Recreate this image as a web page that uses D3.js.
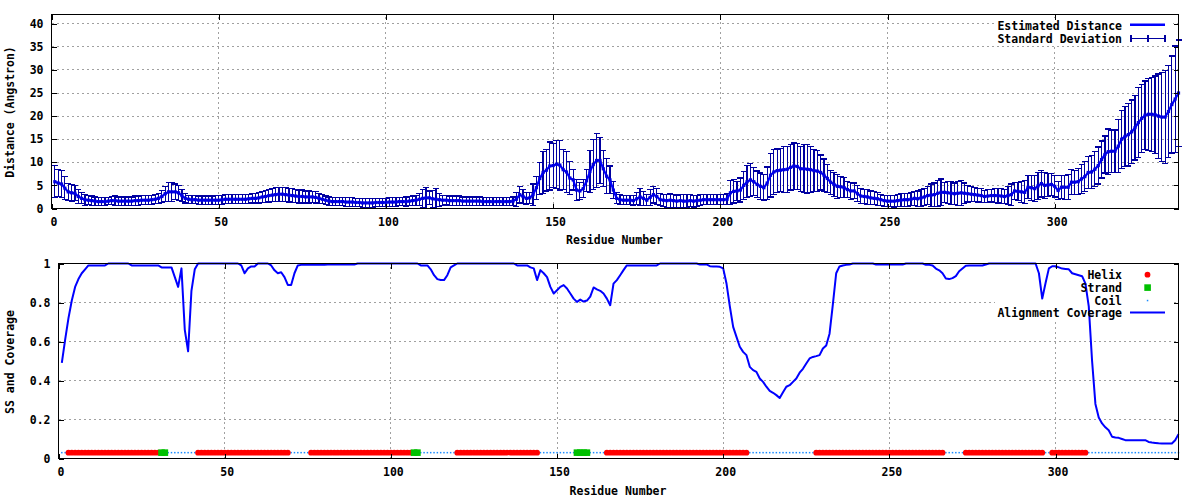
<!DOCTYPE html>
<html><head><meta charset="utf-8">
<script src="https://cdn.jsdelivr.net/npm/d3@7"></script>
<style>
body{margin:0;background:#fff}
svg{display:block}
text{font-family:"DejaVu Sans Mono",monospace;font-weight:bold;font-size:11.5px;fill:#000}
</style>
</head><body>
<script>
// ---------------- DATA ----------------
const residues = d3.range(1, 338);

const distMean = [
 5.8,5.5,5.3,4.4,3.6,3.4,3.3,2.6,2.2,1.9,
 1.8,1.7,1.6,1.5,1.5,1.5,1.6,1.7,1.7,1.6,
 1.6,1.6,1.6,1.6,1.7,1.7,1.8,1.8,1.8,1.9,
 2.0,2.2,2.6,3.2,3.6,3.6,3.6,3.4,2.8,2.2,
 2.0,1.9,1.9,1.8,1.8,1.8,1.8,1.8,1.8,1.8,
 1.9,2.0,2.0,2.0,2.0,2.0,2.0,2.0,2.1,2.2,
 2.2,2.3,2.5,2.6,2.8,2.9,3.0,3.1,3.1,3.0,
 2.9,2.8,2.7,2.6,2.6,2.5,2.5,2.5,2.4,2.2,
 2.0,1.8,1.6,1.5,1.5,1.5,1.5,1.4,1.4,1.4,
 1.3,1.3,1.2,1.2,1.2,1.2,1.3,1.3,1.3,1.3,
 1.4,1.4,1.4,1.5,1.5,1.5,1.6,1.7,1.8,2.0,
 2.2,2.3,2.3,2.1,2.0,1.9,1.8,1.8,1.7,1.7,
 1.7,1.7,1.6,1.6,1.6,1.6,1.6,1.6,1.5,1.5,
 1.5,1.5,1.5,1.5,1.5,1.5,1.5,1.6,2.0,3.0,
 2.6,2.2,2.3,3.0,4.5,6.5,7.8,8.3,9.2,9.3,
 9.6,9.4,8.4,7.9,6.6,6.2,4.0,3.8,4.3,6.0,
 8.0,9.5,10.4,10.4,8.6,7.0,6.2,4.0,2.2,1.9,
 1.8,1.8,1.8,1.7,2.1,2.5,2.2,1.8,2.4,3.0,
 2.6,1.9,1.8,1.7,1.8,1.7,1.6,1.7,1.6,1.6,
 1.7,1.6,1.7,1.8,1.9,1.9,1.9,1.9,1.9,1.9,
 1.9,2.0,3.4,3.7,3.8,4.0,5.0,5.8,6.2,5.8,
 5.2,4.8,4.5,5.5,7.2,7.9,8.2,8.3,8.4,8.5,
 8.9,9.2,9.1,8.6,8.6,8.5,8.4,8.2,8.1,7.8,
 7.2,6.5,5.7,5.2,4.8,4.7,4.5,4.1,3.8,3.8,
 3.2,2.7,2.6,2.5,2.3,2.2,2.1,1.9,1.7,1.6,
 1.6,1.6,1.7,1.8,1.9,1.9,2.0,2.2,2.1,2.3,
 2.5,2.8,2.9,3.0,3.3,3.5,3.5,3.4,3.3,3.2,
 3.3,3.4,3.3,3.2,3.1,3.0,2.9,2.8,2.6,2.7,
 2.8,2.8,2.8,2.7,2.6,2.8,3.0,3.8,3.7,3.6,
 3.5,4.6,4.5,4.3,4.9,5.4,5.0,5.1,5.2,4.8,
 3.9,4.6,4.6,4.6,5.7,5.7,5.8,6.4,6.9,7.8,
 7.9,8.5,9.3,10.6,11.7,12.3,12.4,12.4,13.5,15.0,
 15.6,16.0,16.6,17.5,18.6,19.5,20.2,20.4,20.4,20.3,
 20.0,19.8,19.8,21.0,22.5,23.7,25.0
];

const distSd = [
 3.5,2.9,3.0,2.5,1.8,1.8,1.6,1.5,1.2,1.2,
 1.0,1.0,0.9,0.9,0.9,0.8,0.8,0.9,1.0,0.9,
 0.9,0.9,0.9,0.9,1.0,1.0,1.0,1.0,1.0,1.0,
 1.0,1.1,1.3,1.6,2.0,2.0,1.7,1.6,1.3,1.0,
 0.9,0.9,0.9,0.9,0.9,0.9,0.9,0.9,1.0,1.0,
 1.0,1.0,1.0,1.0,1.0,1.0,1.0,1.0,1.0,1.0,
 1.0,1.1,1.2,1.3,1.4,1.4,1.5,1.5,1.5,1.5,
 1.5,1.5,1.4,1.4,1.4,1.3,1.3,1.2,1.2,1.1,
 1.0,0.9,0.9,0.9,0.9,0.9,0.9,0.9,0.9,0.9,
 0.9,0.9,0.9,0.9,0.9,0.9,0.9,0.9,0.9,0.9,
 0.9,0.9,0.9,0.9,0.9,1.0,1.0,1.0,1.1,1.3,
 2.0,2.3,1.5,1.8,2.4,1.4,1.1,1.0,1.0,1.0,
 1.0,1.0,0.9,0.9,0.9,0.9,0.9,0.9,0.9,0.9,
 0.8,0.8,0.8,0.8,0.8,0.8,0.8,0.9,1.5,1.8,
 1.6,1.3,1.2,2.3,2.5,3.5,4.5,4.5,5.2,4.8,
 5.2,5.4,4.3,4.5,3.5,2.2,2.2,1.8,2.0,2.4,
 4.6,5.4,5.8,5.0,3.9,3.8,3.0,1.8,1.2,1.1,
 1.0,1.0,1.0,1.1,1.3,1.8,1.5,1.2,1.8,1.8,
 1.7,1.3,1.3,1.4,1.5,1.4,1.3,1.4,1.5,1.4,
 1.3,1.3,1.2,1.2,1.1,1.1,1.1,1.1,1.1,1.1,
 1.1,1.2,2.6,2.5,2.0,2.6,3.0,3.5,3.6,3.0,
 2.9,2.9,2.8,3.5,4.7,4.8,4.7,4.7,5.0,5.0,
 4.9,5.0,5.0,4.9,5.2,5.3,5.0,4.5,4.4,3.8,
 3.5,3.0,2.6,2.6,2.6,2.3,2.2,1.8,1.8,1.7,
 1.7,1.7,1.6,1.6,1.5,1.4,1.4,1.2,1.2,1.2,
 1.2,1.3,1.3,1.4,1.4,1.4,1.4,1.5,1.7,1.9,
 1.9,2.0,2.4,2.5,2.8,2.9,2.2,2.4,2.5,2.3,
 2.6,2.7,2.2,1.8,1.6,1.5,1.5,1.5,1.3,1.4,
 1.4,1.5,1.6,1.6,1.6,2.0,2.3,1.9,2.0,2.3,
 2.5,2.5,2.7,2.8,2.9,2.9,2.8,2.5,2.4,2.3,
 2.0,2.5,2.6,2.7,2.7,2.6,2.8,3.1,3.3,3.4,
 3.6,3.8,4.0,4.0,4.0,4.9,4.6,4.6,5.7,6.3,
 6.5,6.8,6.9,7.0,7.6,7.4,7.4,7.8,8.0,8.4,
 9.1,9.6,10.0,10.0,10.5,11.5,11.5
];

const coverage = [
 0.49,0.61,0.72,0.81,0.88,0.92,0.95,0.97,0.99,0.99,
 0.99,0.99,0.99,0.99,1,1,1,1,1,1,
 1,0.99,0.99,0.99,0.99,0.99,0.99,0.99,0.99,0.99,
 0.98,0.98,0.98,0.98,0.93,0.88,0.975,0.66,0.55,0.86,
 0.97,1,1,1,1,1,1,1,1,1,
 1,1,1,1,0.99,0.95,0.975,0.985,0.985,1,
 1,1,1,0.99,0.965,0.95,0.955,0.93,0.89,0.89,
 0.95,0.99,0.993,0.993,0.993,0.993,0.993,0.993,0.993,0.993,
 0.995,0.995,0.995,0.995,0.995,0.995,0.995,0.995,0.995,1,
 1,1,1,1,1,1,1,1,1,1,
 1,1,1,1,1,1,1,1,0.99,0.99,
 0.99,0.97,0.94,0.92,0.915,0.915,0.94,0.98,0.99,1,
 1,1,1,1,1,1,1,1,1,1,
 1,1,1,1,1,1,1,0.99,0.99,0.99,
 0.99,0.98,0.975,0.915,0.966,0.95,0.93,0.88,0.846,0.863,
 0.88,0.889,0.872,0.846,0.82,0.803,0.815,0.805,0.81,0.83,
 0.877,0.867,0.86,0.846,0.82,0.786,0.897,0.915,0.94,0.966,
 0.99,0.99,0.99,0.99,0.99,0.99,0.99,0.99,0.99,0.99,
 1,1,1,1,1,1,1,1,1,1,
 1,1,0.995,0.995,0.995,0.986,0.985,0.984,0.983,0.975,
 0.897,0.78,0.675,0.624,0.573,0.547,0.53,0.47,0.453,0.444,
 0.41,0.393,0.368,0.347,0.337,0.325,0.31,0.34,0.368,0.376,
 0.393,0.41,0.44,0.46,0.487,0.513,0.521,0.525,0.53,0.564,
 0.58,0.64,0.79,0.95,0.985,0.99,0.993,0.995,1,1,
 1,1,1,1,1,0.995,0.995,0.995,0.995,0.995,
 0.995,0.995,0.995,0.995,1,1,1,1,1,1,
 0.993,0.993,0.99,0.974,0.965,0.95,0.923,0.92,0.925,0.935,
 0.96,0.974,0.988,0.99,0.99,0.99,0.99,0.99,0.995,1,
 1,1,1,1,1,1,1,1,1,1,
 1,1,1,1,0.95,0.82,0.9,0.975,0.986,0.986,
 0.98,0.974,0.972,0.97,0.95,0.945,0.94,0.935,0.897,0.78,
 0.50,0.28,0.21,0.18,0.16,0.145,0.112,0.108,0.106,0.10,
 0.094,0.094,0.094,0.094,0.094,0.094,0.094,0.085,0.082,0.08,
 0.078,0.077,0.077,0.077,0.077,0.094,0.125
];

// secondary structure: [type, first residue, last residue]
const ssSegments = [
 ["C",1,2],["H",3,30],["E",31,32],["C",33,41],["H",42,69],["C",70,75],
 ["H",76,106],["E",107,108],["C",109,119],["H",120,144],["C",145,155],
 ["E",156,159],["C",160,164],["H",165,207],["C",208,227],["H",228,266],
 ["C",267,272],["H",273,296],["C",297,298],["H",299,309],["C",310,337]
];
const ssLevel = 0.03;

const xTickValues = [0, 50, 100, 150, 200, 250, 300];
const yTopTickValues = [0, 5, 10, 15, 20, 25, 30, 35, 40];
const yBotTickValues = [0, 0.2, 0.4, 0.6, 0.8, 1];

const topLegend = ["Estimated Distance", "Standard Deviation"];
const botLegend = ["Helix", "Strand", "Coil", "Alignment Coverage"];

// ---------------- DRAW ----------------
const svg = d3.select("body").append("svg").attr("width", 1200).attr("height", 500);

const BLUE = "#0000ff", NAVY = "#0000a0", RED = "#ff0000", GREEN = "#00c000", COIL = "#1a8cff";
const GRID = "#a0a0a0";

function frame(g, x, y, xTicks, yTicks, yFmt, keyBox) {
  const [l, r] = x.range(), [b, t] = y.range();
  // grid
  const grid = g.append("g").attr("shape-rendering", "crispEdges")
    .attr("stroke", GRID).attr("stroke-dasharray", "2,3").attr("stroke-width", 1);
  grid.selectAll(".gx").data(xTicks.filter(d => x(d) > l + 1 && x(d) < r - 1)).join("line")
    .attr("x1", d => x(d)).attr("x2", d => x(d)).attr("y1", b).attr("y2", t);
  grid.selectAll(".gy").data(yTicks.filter(d => y(d) < b - 1 && y(d) > t + 1)).join("line")
    .attr("x1", l).attr("x2", r).attr("y1", d => y(d)).attr("y2", d => y(d));
  // opaque key box
  g.append("rect").attr("x", keyBox[0]).attr("y", keyBox[1])
    .attr("width", keyBox[2]).attr("height", keyBox[3]).attr("fill", "#fff");
}

function axes(g, x, y, xTicks, yTicks, yFmt) {
  const [l, r] = x.range(), [b, t] = y.range();
  const ax = g.append("g").attr("shape-rendering", "crispEdges");
  ax.append("g").attr("transform", `translate(0,${b})`)
    .call(d3.axisBottom(x).tickValues(xTicks).tickSize(-5).tickPadding(9).tickFormat(d3.format("d")))
    .call(a => a.select(".domain").remove())
    .call(a => a.selectAll("text").attr("dx", 2));
  ax.append("g").attr("transform", `translate(0,${t})`)
    .call(d3.axisTop(x).tickValues(xTicks).tickSize(-5).tickFormat(""))
    .call(a => a.select(".domain").remove());
  ax.append("g").attr("transform", `translate(${l},0)`)
    .call(d3.axisLeft(y).tickValues(yTicks).tickSize(-5).tickPadding(8).tickFormat(yFmt))
    .call(a => a.select(".domain").remove());
  ax.append("g").attr("transform", `translate(${r},0)`)
    .call(d3.axisRight(y).tickValues(yTicks).tickSize(-5).tickFormat(""))
    .call(a => a.select(".domain").remove());
  ax.append("rect").attr("x", l).attr("y", t).attr("width", r - l).attr("height", b - t)
    .attr("fill", "none").attr("stroke", "#000").attr("stroke-width", 1);
}

// ----- top panel -----
const xT = d3.scaleLinear().domain([0, 337]).range([51.5, 1178.5]);
const yT = d3.scaleLinear().domain([0, 42]).range([208.5, 14.5]);
const gT = svg.append("g");
frame(gT, xT, yT, xTickValues, yTopTickValues, d3.format("d"), [995, 18, 178, 27]);

const eb = gT.append("g").attr("stroke", NAVY).attr("stroke-width", 1.2).attr("shape-rendering", "crispEdges");
residues.forEach((r, i) => {
  const m = distMean[i], s = distSd[i];
  const x = xT(r), y1 = yT(Math.max(0, m - s)), y2 = yT(m + s);
  eb.append("line").attr("x1", x).attr("x2", x).attr("y1", y1).attr("y2", y2);
  eb.append("line").attr("x1", x - 3).attr("x2", x + 3).attr("y1", y1).attr("y2", y1);
  eb.append("line").attr("x1", x - 3).attr("x2", x + 3).attr("y1", y2).attr("y2", y2);
});
const lineT = d3.line().x((d, i) => xT(residues[i])).y(d => yT(d));
gT.append("path").datum(distMean).attr("d", lineT).attr("fill", "none")
  .attr("stroke", BLUE).attr("stroke-width", 2.2).attr("stroke-linejoin", "round");
gT.append("g").selectAll("rect").data(distMean).join("rect")
  .attr("x", (d, i) => xT(residues[i]) - 1.6).attr("y", d => yT(d) - 1.6)
  .attr("width", 3.2).attr("height", 3.2).attr("fill", "#0000e0");

axes(gT, xT, yT, xTickValues, yTopTickValues, d3.format("d"));

// legend top
const keyRight = 1122;
gT.append("text").attr("x", keyRight).attr("y", 25.5).attr("dy", "0.35em").attr("text-anchor", "end").text(topLegend[0]);
gT.append("text").attr("x", keyRight).attr("y", 38.5).attr("dy", "0.35em").attr("text-anchor", "end").text(topLegend[1]);
gT.append("line").attr("x1", 1130).attr("x2", 1165).attr("y1", 24.7).attr("y2", 24.7).attr("stroke", BLUE).attr("stroke-width", 2.5);
const kg = gT.append("g").attr("stroke", NAVY).attr("stroke-width", 1.2).attr("shape-rendering", "crispEdges");
kg.append("line").attr("x1", 1131).attr("x2", 1165).attr("y1", 38.5).attr("y2", 38.5);
[1131, 1148, 1165].forEach(x => kg.append("line").attr("x1", x).attr("x2", x).attr("y1", 35).attr("y2", 42));

gT.append("text").attr("x", 614.5).attr("y", 240).attr("dy", "0.35em").attr("text-anchor", "middle").text("Residue Number");
gT.append("text").attr("transform", "translate(10,112) rotate(-90)").attr("dy", "0.35em").attr("text-anchor", "middle").text("Distance (Angstron)");

// ----- bottom panel -----
const xB = d3.scaleLinear().domain([0, 337]).range([58.5, 1178.5]);
const yB = d3.scaleLinear().domain([0, 1]).range([458.5, 263.5]);
const gB = svg.append("g");
frame(gB, xB, yB, xTickValues, yBotTickValues, d3.format("~g"), [995, 268, 178, 52]);

const ss = residues.map(r => ssSegments.find(s => r >= s[1] && r <= s[2])[0]);
const ssData = residues.map((r, i) => ({ r, t: ss[i] }));
gB.append("g").selectAll("rect").data(ssData.filter(d => d.t === "C")).join("rect")
  .attr("x", d => xB(d.r) - 0.75).attr("y", yB(ssLevel) - 0.75).attr("width", 1.5).attr("height", 1.5).attr("fill", COIL);
gB.append("g").selectAll("circle").data(ssData.filter(d => d.t === "H")).join("circle")
  .attr("cx", d => xB(d.r)).attr("cy", yB(ssLevel)).attr("r", 2.9).attr("fill", RED);
gB.append("g").selectAll("rect").data(ssData.filter(d => d.t === "E")).join("rect")
  .attr("x", d => xB(d.r) - 3.3).attr("y", yB(ssLevel) - 3.3).attr("width", 6.6).attr("height", 6.6).attr("fill", GREEN);

const lineB = d3.line().x((d, i) => xB(residues[i])).y(d => yB(d));
gB.append("path").datum(coverage).attr("d", lineB).attr("fill", "none")
  .attr("stroke", BLUE).attr("stroke-width", 2).attr("stroke-linejoin", "round");

axes(gB, xB, yB, xTickValues, yBotTickValues, d3.format("~g"));

// legend bottom
const rowsB = [275, 287.7, 300.5, 313.3];
botLegend.forEach((t, i) => gB.append("text").attr("x", keyRight).attr("y", rowsB[i]).attr("dy", "0.35em").attr("text-anchor", "end").text(t));
gB.append("circle").attr("cx", 1147.5).attr("cy", 274.7).attr("r", 2.9).attr("fill", RED);
gB.append("rect").attr("x", 1144.3).attr("y", 284.3).attr("width", 6.6).attr("height", 6.6).attr("fill", GREEN);
gB.append("rect").attr("x", 1146.8).attr("y", 299.8).attr("width", 1.5).attr("height", 1.5).attr("fill", COIL);
gB.append("line").attr("x1", 1130).attr("x2", 1165).attr("y1", 312.5).attr("y2", 312.5).attr("stroke", BLUE).attr("stroke-width", 2);

gB.append("text").attr("x", 618).attr("y", 490.5).attr("dy", "0.35em").attr("text-anchor", "middle").text("Residue Number");
gB.append("text").attr("transform", "translate(10,362) rotate(-90)").attr("dy", "0.35em").attr("text-anchor", "middle").text("SS and Coverage");
</script>
</body></html>
